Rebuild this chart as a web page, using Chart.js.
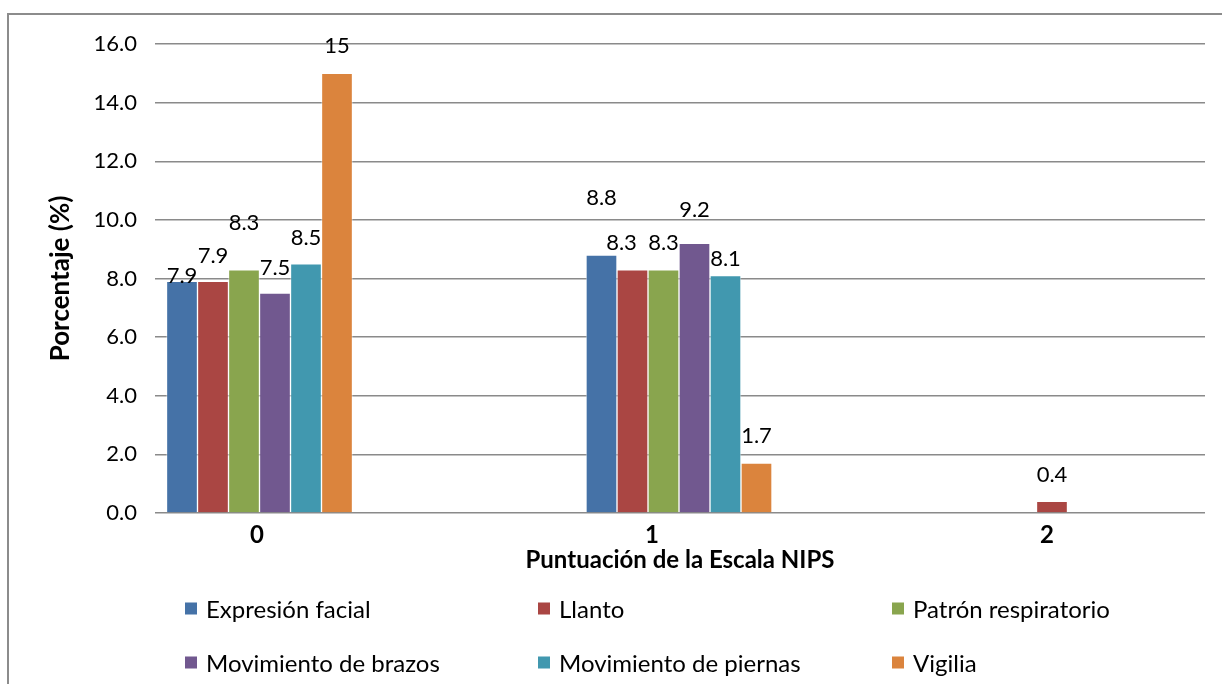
<!DOCTYPE html>
<html>
<head>
<meta charset="utf-8">
<script src="https://cdn.jsdelivr.net/npm/chart.js@4"></script>
<style>
    body { margin: 0; background: #fff; font-family: Lato, "Open Sans", sans-serif; }
    #wrap { position: relative; width: 1222px; height: 684px; overflow: hidden; }
    #frame { position: absolute; left: 7px; top: 13px; width: 1400px; height: 800px; border: 2px solid #8c8c8c; box-sizing: border-box; }
    #legend { position: absolute; left: 0; top: 0; width: 1222px; height: 684px; pointer-events: none; }
    .item { position: absolute; display: flex; align-items: center; font-size: 24px; color: #000; white-space: nowrap; transform: translateY(-50%); }
    .box { width: 12px; height: 12px; margin-right: 9px; }
</style>
</head>
<body>
<div id="wrap">
    <div id="frame"></div>
    <canvas id="nipsChart"></canvas>
    <div id="legend"></div>
</div>
<script>
// NIPS score categories
const scores = [0, 1, 2];

// Percentages per item, one value per score
const expresionFacial = [7.9, 8.8, 0];
const llanto = [7.9, 8.3, 0.4];
const patronRespiratorio = [8.3, 8.3, 0];
const movBrazos = [7.5, 9.2, 0];
const movPiernas = [8.5, 8.1, 0];
const vigilia = [15, 1.7, 0];

const seriesNames = ['Expresión facial', 'Llanto', 'Patrón respiratorio',
    'Movimiento de brazos', 'Movimiento de piernas', 'Vigilia'];
const seriesValues = [expresionFacial, llanto, patronRespiratorio, movBrazos, movPiernas, vigilia];
const seriesColors = ['#4572A7', '#AA4643', '#89A54E', '#71588F', '#4198AF', '#DB843D'];

const yTicks = [0, 2, 4, 6, 8, 10, 12, 14, 16];

// Draw value labels above the bars (zero values are left out)
const barLabels = {
    id: 'barLabels',
    afterDatasetsDraw(chart, args, opts) {
        const ctx = chart.ctx;
        ctx.save();
        ctx.font = '22px Lato';
        ctx.fillStyle = '#000';
        ctx.textAlign = 'center';
        ctx.textBaseline = 'middle';
        chart.data.datasets.forEach((ds, i) => {
            chart.getDatasetMeta(i).data.forEach((bar, j) => {
                const v = ds.data[j].y;
                if (!v) return;
                const lift = (opts.lift[i] && opts.lift[i][j]) || 26;
                const dx = (opts.shift[i] && opts.shift[i][j]) || 0;
                ctx.fillText(String(v), bar.x + dx, bar.y - lift);
            });
        });
        ctx.restore();
    }
};

const ctx = document.getElementById('nipsChart').getContext('2d');
const nipsChart = new Chart(ctx, {
    type: 'bar',
    data: {
        datasets: seriesNames.map((name, i) => ({
            label: name,
            data: scores.map((s, j) => ({ x: s, y: seriesValues[i][j] })),
            backgroundColor: seriesColors[i],
            borderColor: 'rgba(255, 255, 255, 0.45)',
            borderWidth: 1,
            barThickness: 31,
            xAxisID: 'x'
        }))
    },
    options: {
        responsive: true,
        maintainAspectRatio: false,
        animation: false,
        layout: { padding: { left: 45, right: 17, top: 44, bottom: 109 } },
        plugins: {
            legend: { display: false },
            tooltip: { enabled: false },
            // label placement per series and score (Excel placed them unevenly)
            barLabels: {
                lift: [[6, 57], [26, 27, 26], [47, 27], [25, 33], [26, 17], [27, 27]],
                shift: [[0, 0], [0, -11]]
            }
        },
        scales: {
            x: {
                type: 'linear',
                position: 'bottom',
                display: false,
                offset: false,
                min: -0.2491,
                max: 2.2539,
                afterBuildTicks: (scale) => { scale.ticks = scores.map(v => ({ value: v })); }
            },
            xl: {
                type: 'linear',
                position: 'bottom',
                offset: false,
                min: -0.2582,
                max: 2.4,
                grid: { display: false, drawTicks: false },
                border: { display: false },
                afterBuildTicks: (scale) => { scale.ticks = scores.map(v => ({ value: v })); },
                ticks: {
                    padding: 8,
                    color: '#000',
                    font: { family: 'Lato', size: 24, weight: 'bold' },
                    callback: (v) => String(v)
                },
                title: {
                    display: true,
                    text: 'Puntuación de la Escala NIPS',
                    color: '#000',
                    padding: 0,
                    font: { family: 'Lato', size: 24, weight: 'bold' }
                },
                afterFit: (scale) => { scale.height = 62; }
            },
            y: {
                min: 0,
                max: 16,
                afterBuildTicks: (scale) => { scale.ticks = yTicks.map(v => ({ value: v })); },
                grid: { color: '#8a8a8a', lineWidth: 1.5, drawTicks: false },
                border: { display: false },
                ticks: {
                    padding: 18,
                    color: '#000',
                    font: { family: 'Lato', size: 22 },
                    callback: (v) => v.toFixed(1)
                },
                title: {
                    display: true,
                    text: 'Porcentaje (%)',
                    color: '#000',
                    padding: 0,
                    font: { family: 'Lato', size: 26, weight: 'bold' }
                },
                afterFit: (scale) => { scale.width = 110; }
            }
        }
    },
    plugins: [barLabels]
});

// Legend laid out in a 3 x 2 grid like the original
const legendCols = [185, 538, 892];
const legendRows = [608, 662];
const legendEl = document.getElementById('legend');
nipsChart.data.datasets.forEach((ds, i) => {
    const item = document.createElement('div');
    item.className = 'item';
    item.style.left = legendCols[i % 3] + 'px';
    item.style.top = legendRows[Math.floor(i / 3)] + 'px';
    item.innerHTML = '<span class="box" style="background:' + ds.backgroundColor + '"></span>' + ds.label;
    legendEl.appendChild(item);
});
</script>
</body>
</html>
